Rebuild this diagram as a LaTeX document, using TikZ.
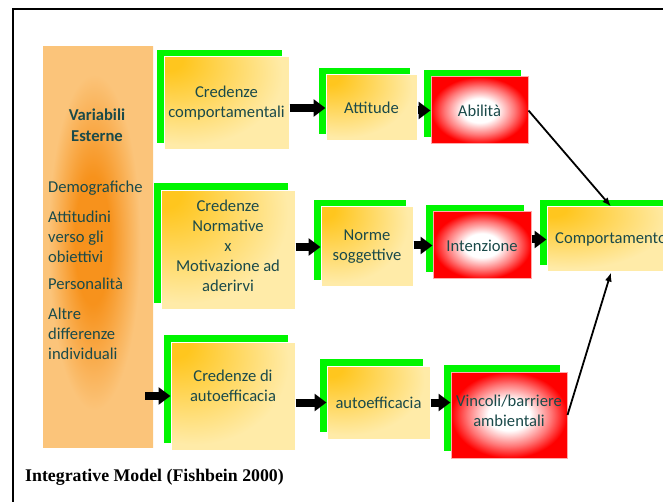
\documentclass[tikz,border=0pt]{standalone}
\usepackage{fontspec}
\setmainfont{Carlito}
\newfontfamily\titlefont{Liberation Serif}
\usepackage{tikz}
\usetikzlibrary{shapes,arrows,arrows.meta,shadows,positioning}

\definecolor{ink}{RGB}{26,74,74}
\definecolor{ydark}{RGB}{255,198,30}
\definecolor{ylight}{RGB}{255,235,168}
\definecolor{odark}{RGB}{247,146,28}
\definecolor{olight}{RGB}{251,196,122}
\definecolor{gbar}{RGB}{0,245,0}
\definecolor{redge}{RGB}{255,0,0}
\definecolor{rpink}{RGB}{255,120,120}
\definecolor{rline}{RGB}{255,170,170}

\pgfdeclareradialshading{cornerglow}{\pgfpoint{-25bp}{25bp}}{color(0bp)=(ydark); color(6bp)=(ydark); color(38bp)=(ylight); color(100bp)=(ylight)}
\pgfdeclareradialshading{redglow}{\pgfpoint{0bp}{0bp}}{color(0bp)=(white); color(9bp)=(white); color(18bp)=(rpink); color(25bp)=(redge); color(50bp)=(redge)}
\pgfdeclareradialshading{orangeglow}{\pgfpoint{-3bp}{1bp}}{color(0bp)=(odark); color(8bp)=(odark); color(21bp)=(olight); color(50bp)=(olight)}

\begin{document}
\begin{tikzpicture}[x=1pt, y=-1pt]
			\tikzstyle{Box}		= [rectangle, draw=white, line width=1pt, shade, shading=cornerglow, text=ink, align=center, inner sep=2pt, font=\fontsize{16.6}{20}\selectfont, general shadow={fill=gbar, shadow xshift=-7pt, shadow yshift=7pt}]
			\tikzstyle{Alert}	= [Box, draw=rline, shading=redglow]
			\tikzstyle{Panel}	= [rectangle, shade, shading=orangeglow, minimum width=110pt, minimum height=400pt]
			\tikzstyle{Block}	= [line width=8pt, -{Triangle[length=12pt, width=17pt]}]
			\tikzstyle{Link}	= [line width=1.8pt, -{Latex[length=9pt, width=7pt]}]

			\useasboundingbox (0, 0) rectangle (663, 502);
			\clip (0, 0) rectangle (663, 502);

			\node (ve) at (98, 247) [Panel] {};
			\node (vt) at (97, 125) [text=ink, align=center, font=\bfseries\fontsize{16.6}{20.5}\selectfont] {Variabili\\Esterne};
			\node (vl) at (48, 181) [anchor=north west, inner sep=0pt, text=ink, align=left, font=\fontsize{16.6}{20.3}\selectfont] {Demografiche\\[9pt]Attitudini\\verso gli\\obiettivi\\[7pt]Personalità\\[9pt]Altre\\differenze\\individuali};

			\node (c1) at (226.5, 103.5) [Box, minimum width=125pt, minimum height=93pt] {Credenze\\comportamentali};
			\node (a1) at (371.5, 108) [Box, minimum width=91pt, minimum height=66pt] {Attitude};
			\node (ab) at (479.5, 110.5) [Alert, minimum width=97pt, minimum height=67pt] {Abilità};
			\node (c2) at (228, 250) [Box, minimum width=134pt, minimum height=119pt, text depth=8pt] {Credenze\\Normative\\x\\Motivazione ad\\aderirvi};
			\node (n1) at (367, 247) [Box, minimum width=92pt, minimum height=80pt] {Norme\\soggettive};
			\node (in) at (482, 245.5) [Alert, minimum width=98pt, minimum height=67pt] {Intenzione};
			\node (cp) at (611, 239.5) [Box, minimum width=128pt, minimum height=65pt] {Comportamento};
			\node (c3) at (233, 396) [Box, minimum width=124pt, minimum height=108pt, text depth=20pt] {Credenze di\\autoefficacia};
			\node (e1) at (378.5, 402.5) [Box, minimum width=103pt, minimum height=73pt] {autoefficacia};
			\node (vb) at (509, 415) [Alert, minimum width=116pt, minimum height=86pt, text depth=8pt] {Vincoli/barriere\\ambientali};

			\draw [Block] (c1.east |- a1.west) to (a1.west);
			\draw [Block] (a1.east |- ab.west) to (ab.west);
			\draw [Block] (c2.east |- n1.west) to (n1.west);
			\draw [Block] (n1.east |- in.west) to (in.west);
			\draw [Block] (in.east |- cp.west) to (cp.west);
			\draw [Block] ([xshift=-8pt]ve.east |- c3.west) to (c3.west);
			\draw [Block] (c3.east |- e1.west) to (e1.west);
			\draw [Block] (e1.east) to (e1.east -| vb.west);

			\draw [Link] (ab.east) to (cp.north);
			\draw [Link] (vb.east) to (cp.south);

			\node (tt) at (25, 477) [anchor=west, inner sep=0pt, font=\titlefont\bfseries\fontsize{17.8}{20}\selectfont] {Integrative Model (Fishbein 2000)};

			\draw [line width=2pt] (13, 502) -- (13, 9) -- (663, 9);
\end{tikzpicture}
\end{document}
